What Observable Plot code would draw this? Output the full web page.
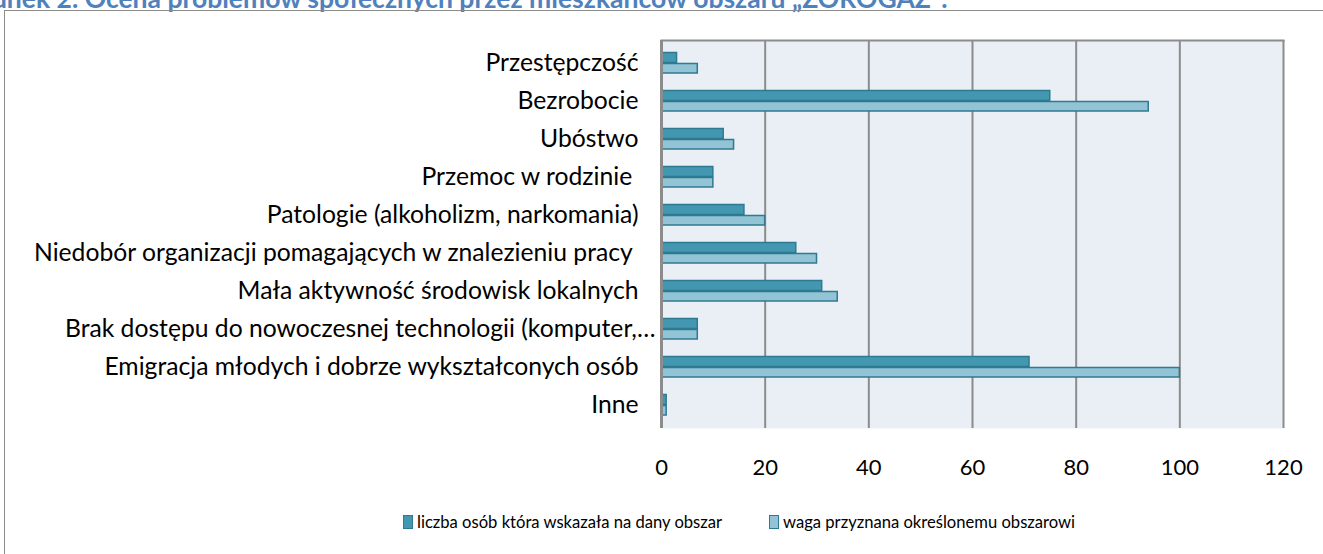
<!DOCTYPE html>
<html>
<head>
<meta charset="utf-8">
<script src="https://cdn.jsdelivr.net/npm/d3@7"></script>
<script src="https://cdn.jsdelivr.net/npm/@observablehq/plot@0.6"></script>
<style>
  body { margin: 0; background: #fff; }
  #wrap { position: relative; width: 1323px; height: 554px; overflow: hidden; font-family: Lato, "Open Sans", sans-serif; }
  #title { position: absolute; left: -50px; top: -18px; font: bold 26.5px Lato, sans-serif; color: #4f81bd; white-space: nowrap; }
  #border { position: absolute; left: 4px; top: 10px; width: 1400px; height: 700px; border: 1px solid #8c8c8c; box-sizing: border-box; }
  #chart { position: absolute; left: 0; top: 0; }
  #chart svg text { white-space: pre; }
  .leg { position: absolute; top: 511px; font: 16.6px Lato, sans-serif; color: #000; white-space: nowrap; display: flex; align-items: center; height: 22px; }
  .sw { display: inline-block; width: 10px; height: 14px; box-sizing: border-box; border: 1.5px solid #2e7a90; margin-right: 4px; }
</style>
</head>
<body>
<div id="wrap">
  <div id="title">Rysunek 2. Ocena problemów społecznych przez mieszkańców obszaru „ZOROGAZ”:</div>
  <div id="border"></div>
  <div id="chart"></div>
  <div class="leg" style="left:403px"><span class="sw" style="background:#4397b0"></span><span id="l1"></span></div>
  <div class="leg" style="left:769px"><span class="sw" style="background:#93c4d6"></span><span id="l2"></span></div>
</div>
<script>
// ---- data ----
const categories = [
  "Przestępczość",
  "Bezrobocie",
  "Ubóstwo",
  "Przemoc w rodzinie ",
  "Patologie (alkoholizm, narkomania)",
  "Niedobór organizacji pomagających w znalezieniu pracy ",
  "Mała aktywność środowisk lokalnych",
  "Brak dostępu do nowoczesnej technologii (komputer,…",
  "Emigracja młodych i dobrze wykształconych osób",
  "Inne"
];
const seriesNames = ["liczba osób która wskazała na dany obszar", "waga przyznana określonemu obszarowi"];
const liczbaOsob = [3, 75, 12, 10, 16, 26, 31, 7, 71, 1];
const waga = [7, 94, 14, 10, 20, 30, 34, 7, 100, 1];
const xTicks = [0, 20, 40, 60, 80, 100, 120];

document.getElementById("l1").textContent = seriesNames[0];
document.getElementById("l2").textContent = seriesNames[1];

const d1 = categories.map((c, i) => ({category: c, value: liczbaOsob[i]}));
const d2 = categories.map((c, i) => ({category: c, value: waga[i]}));

const longLabel = categories[7];
const normalLabels = categories.filter(c => c !== longLabel);

const chart = Plot.plot({
  width: 1323,
  height: 490,
  marginLeft: 661,
  marginRight: 40,
  marginTop: 40,
  marginBottom: 62,
  style: {fontFamily: "Lato, sans-serif", background: "transparent", overflow: "visible"},
  x: {domain: [0, 120]},
  y: {domain: categories, padding: 0},
  marks: [
    Plot.frame({fill: "#e9eff4", stroke: null}),
    Plot.gridX(xTicks.filter(t => t > 0), {stroke: "#8c8c8c", strokeOpacity: 1, strokeWidth: 2}),
    Plot.frame({anchor: "top", stroke: "#8c8c8c", strokeWidth: 2}),
    Plot.barX(d1, {y: "category", x: "value", fill: "#4397b0", stroke: "#2e7a90", strokeWidth: 1.5, insetTop: 8.5, insetBottom: 19.5}),
    Plot.barX(d2, {y: "category", x: "value", fill: "#93c4d6", stroke: "#2e7a90", strokeWidth: 1.5, insetTop: 19.5, insetBottom: 9}),
    Plot.ruleX([0], {stroke: "#8c8c8c", strokeWidth: 3}),
    Plot.axisX(xTicks, {tickSize: 0, tickPadding: 31, fontSize: 22, fill: "#000", label: null}),
    Plot.axisY(normalLabels, {tickSize: 0, tickPadding: 23, fontSize: 24.7, fill: "#000", label: null}),
    Plot.axisY([longLabel], {tickSize: 0, tickPadding: 6, fontSize: 24.7, fill: "#000", label: null})
  ]
});
document.getElementById("chart").appendChild(chart);
</script>
</body>
</html>
